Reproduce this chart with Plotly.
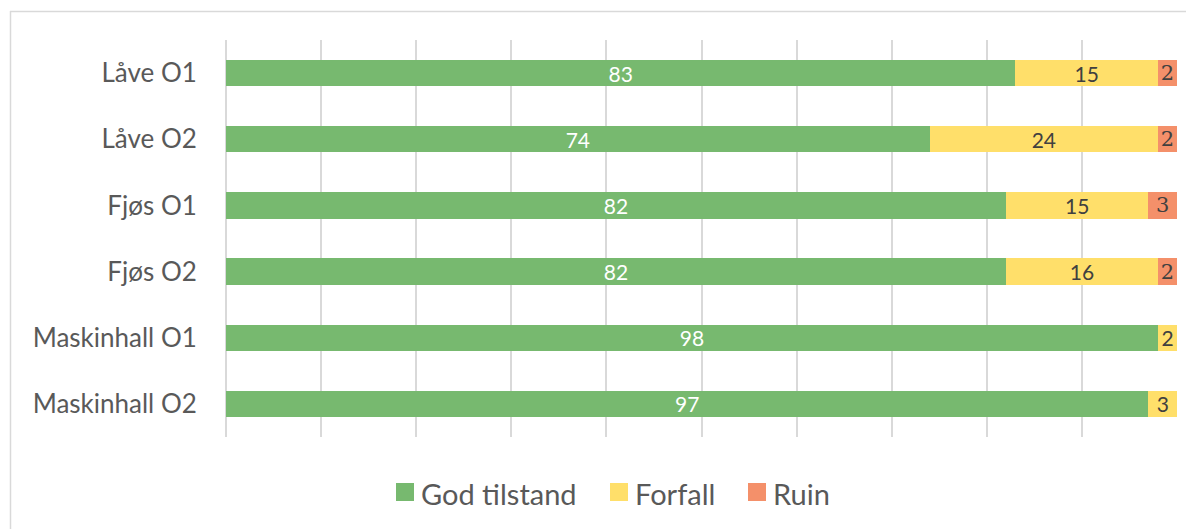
import plotly.graph_objects as go

categories = ["Låve O1", "Låve O2", "Fjøs O1", "Fjøs O2", "Maskinhall O1", "Maskinhall O2"]
god_tilstand = [83, 74, 82, 82, 98, 97]
forfall = [15, 24, 15, 16, 2, 3]
ruin = [2, 2, 3, 2, 0, 0]
series_names = ["God tilstand", "Forfall", "Ruin"]
colors = ["#77B96F", "#FFDF6A", "#F4906A"]

# page body has a default 8px margin; work in screen coords and shift
OFF = 8
SW, SH = 1194, 529
W, H = SW - OFF, SH - OFF
SL, SR, ST, SB = 226, 1177, 40, 437
L, R, T, B = SL - OFF, SR - OFF, ST - OFF, SB - OFF
pw, ph = R - L, B - T

def px(p):
    return (p - SL) / pw

def py(p):
    return (SB - p) / ph

fig = go.Figure()

def labels(vals):
    return [str(v) if v > 0 else "" for v in vals]

common = dict(orientation="h", width=0.4, textposition="inside", insidetextanchor="middle",
              textangle=0, constraintext="none", showlegend=False)

fig.add_trace(go.Bar(
    y=categories, x=god_tilstand, name=series_names[0],
    marker=dict(color=colors[0], line=dict(width=0)),
    text=labels(god_tilstand), textfont=dict(color="white", size=21, family="Lato"), **common,
))
fig.add_trace(go.Bar(
    y=categories, x=forfall, name=series_names[1],
    marker=dict(color=colors[1], line=dict(width=0)),
    text=labels(forfall), textfont=dict(color="#404040", size=21, family="Lato"), **common,
))
fig.add_trace(go.Bar(
    y=categories, x=ruin, name=series_names[2],
    marker=dict(color=colors[2], line=dict(width=0)),
    text=labels(ruin), textfont=dict(color="#404040", size=21, family="DejaVu Serif"), **common,
))

shapes = [
    dict(type="line", xref="paper", yref="paper", x0=px(10), x1=px(1210), y0=py(11.5), y1=py(11.5),
         line=dict(color="#D9D9D9", width=1.5), layer="below"),
    dict(type="line", xref="paper", yref="paper", x0=px(10.5), x1=px(10.5), y0=py(11), y1=py(560),
         line=dict(color="#D9D9D9", width=1.5), layer="below"),
]
annotations = []
leg = [(396, 422, series_names[0], colors[0]),
       (610, 636, series_names[1], colors[1]),
       (748, 774, series_names[2], colors[2])]
for sx, tx, name, c in leg:
    shapes.append(dict(type="rect", xref="paper", yref="paper",
                       x0=px(sx), x1=px(sx + 18), y0=py(501), y1=py(483),
                       fillcolor=c, line=dict(width=0)))
    annotations.append(dict(x=px(tx - 3), y=py(493), xref="paper", yref="paper",
                            text=name, showarrow=False, xanchor="left", yanchor="middle",
                            font=dict(size=29, color="#595959", family="Lato")))

fig.update_layout(
    barmode="stack",
    width=W, height=H,
    margin=dict(l=L, r=W - R, t=T, b=H - B, autoexpand=False),
    paper_bgcolor="white", plot_bgcolor="white",
    xaxis=dict(range=[0, 100], dtick=10, showgrid=True, gridcolor="#D9D9D9", gridwidth=1.5,
               showticklabels=False, zeroline=True, zerolinecolor="#D9D9D9", zerolinewidth=1.5,
               showline=False, fixedrange=True),
    yaxis=dict(categoryorder="array", categoryarray=categories, autorange="reversed",
               showgrid=False, showline=False, zeroline=False,
               ticks="outside", ticklen=23, tickcolor="rgba(0,0,0,0)",
               tickfont=dict(size=26, color="#595959", family="Lato")),
    shapes=shapes, annotations=annotations,
    showlegend=False,
)

fig.write_html("out.html")
